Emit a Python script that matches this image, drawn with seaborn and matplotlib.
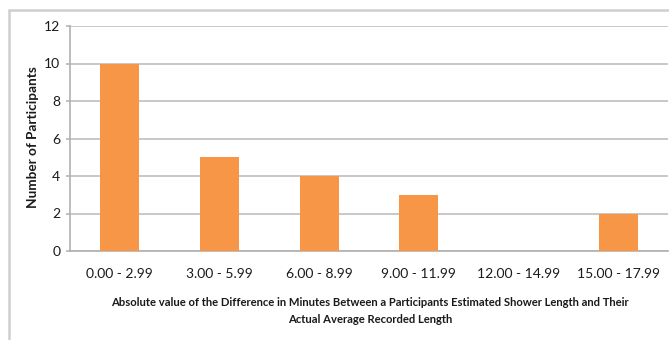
import matplotlib
matplotlib.use("Agg")
import matplotlib.pyplot as plt
import seaborn as sns
import pandas as pd
from matplotlib.lines import Line2D

categories = ["0.00 - 2.99", "3.00 - 5.99", "6.00 - 8.99",
              "9.00 - 11.99", "12.00 - 14.99", "15.00 - 17.99"]
participants = [10, 5, 4, 3, 0, 2]
y_ticks = [0, 2, 4, 6, 8, 10, 12]

x_title = ("Absolute value of the Difference in Minutes Between a Participants "
           "Estimated Shower Length and Their\nActual Average Recorded Length")
y_title = "Number of Participants"

df = pd.DataFrame({"range": categories, "count": participants})

sns.set_theme(style="white")
plt.rcParams["font.family"] = ["Lato", "DejaVu Sans"]

fig = plt.figure(figsize=(6.69, 3.40), dpi=100)
ax = fig.add_axes([70 / 669, 1 - 251 / 340, 598 / 669, 225 / 340])

sns.barplot(data=df, x="range", y="count", color="#F79646", width=0.39,
            saturation=1, linewidth=0, ax=ax, zorder=3)

ax.set_xlim(-0.5, len(categories) - 0.5)
ax.set_ylim(0, 12)
ax.set_yticks(y_ticks)
ax.set_yticklabels([str(v) for v in y_ticks], fontsize=10, color="#1a1a1a")
ax.yaxis.grid(True, color="#C4C4C4", linewidth=1.3, zorder=0)
ax.xaxis.grid(False)

# category labels centred, tick marks at category boundaries
ax.tick_params(axis="x", which="major", length=0, pad=12, labelsize=10,
               labelcolor="#1a1a1a")
ax.set_xticks([i - 0.5 for i in range(len(categories) + 1)], minor=True)
ax.tick_params(axis="x", which="minor", length=4, width=1.1, color="#B0B0B0",
               direction="out")
ax.tick_params(axis="y", which="major", length=3, width=1.1, color="#B0B0B0",
               direction="out", pad=4, left=True)

for side in ["top", "right"]:
    ax.spines[side].set_visible(False)
for side in ["left", "bottom"]:
    ax.spines[side].set_color("#B0B0B0")
    ax.spines[side].set_linewidth(1.2)

ax.set_xlabel("")
ax.set_ylabel("")
fig.text(370 / 669, 1 - 311 / 340, x_title, ha="center", va="center",
         fontsize=8.1, fontweight="bold", color="#1a1a1a", linespacing=1.75)
fig.text(33 / 669, 1 - 137 / 340, y_title, ha="center", va="center",
         rotation=90, fontsize=9.8, fontweight="bold", color="#1a1a1a")

# chart-area frame along the top and left edges
frame_col = "#CFCFCF"
fig.add_artist(Line2D([9 / 669, 1], [1 - 10 / 340, 1 - 10 / 340],
                      transform=fig.transFigure, color=frame_col, linewidth=1.8))
fig.add_artist(Line2D([9 / 669, 9 / 669], [0, 1 - 10 / 340],
                      transform=fig.transFigure, color=frame_col, linewidth=1.8))

fig.savefig("out.png", dpi=100, facecolor="white")
